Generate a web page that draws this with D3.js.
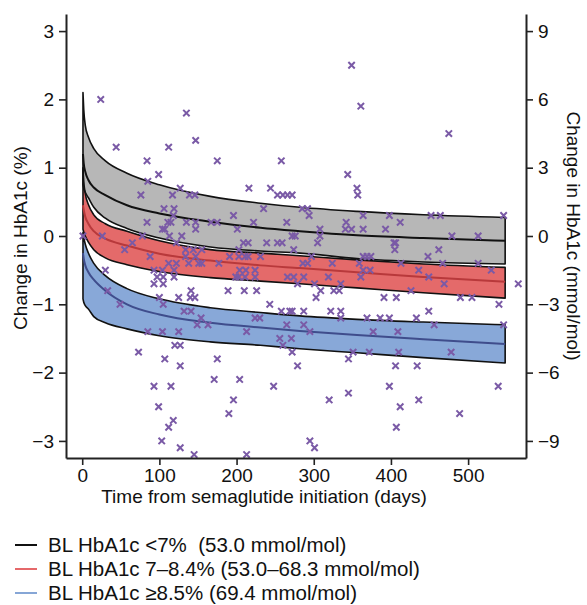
<!DOCTYPE html>
<html>
<head>
<meta charset="utf-8">
<script src="https://cdn.jsdelivr.net/npm/d3@7"></script>
<style>
  body { margin: 0; background: #fff; }
  text { font-family: "Liberation Sans", Arial, sans-serif; }
</style>
</head>
<body>
<div id="chart"></div>
<script>
// model curves, sampled at these days
const curveDays = [1, 2, 4, 8, 15, 30, 58, 100, 166, 231, 282, 356, 442, 548];

// BL HbA1c <7%
const lowUpper = [2.10, 1.85, 1.62, 1.45, 1.28, 1.10, 0.92, 0.75, 0.58, 0.48, 0.42, 0.36, 0.31, 0.27];
const lowMid   = [1.20, 1.06, 0.94, 0.82, 0.71, 0.60, 0.45, 0.33, 0.21, 0.12, 0.07, 0.01, -0.03, -0.07];
const lowLower = [0.75, 0.70, 0.64, 0.56, 0.42, 0.26, 0.11, -0.03, -0.16, -0.22, -0.25, -0.33, -0.38, -0.41];

// BL HbA1c 7-8.4%
const midUpper = [1.00, 0.80, 0.62, 0.46, 0.31, 0.18, 0.07, -0.07, -0.20, -0.25, -0.29, -0.35, -0.41, -0.46];
const midMid   = [0.45, 0.38, 0.28, 0.18, 0.07, -0.04, -0.14, -0.26, -0.36, -0.43, -0.47, -0.53, -0.60, -0.67];
const midLower = [0.10, 0.06, 0.00, -0.09, -0.20, -0.32, -0.42, -0.52, -0.61, -0.66, -0.70, -0.76, -0.83, -0.91];

// BL HbA1c >=8.5%
const highUpper = [0.05, -0.02, -0.12, -0.25, -0.40, -0.58, -0.77, -0.92, -1.05, -1.12, -1.17, -1.22, -1.26, -1.30];
const highMid   = [-0.25, -0.33, -0.43, -0.53, -0.64, -0.80, -1.00, -1.15, -1.27, -1.34, -1.39, -1.45, -1.51, -1.58];
const highLower = [-0.92, -0.97, -1.02, -1.07, -1.18, -1.27, -1.36, -1.46, -1.55, -1.60, -1.65, -1.71, -1.78, -1.86];

// individual patients: [change %, days...]
const pointRows = [
  [2.5, [349]], [2.0, [24]], [1.9, [361]], [1.8, [135]], [1.5, [475]], [1.4, [147]],
  [1.3, [44, 112]], [1.1, [84, 175, 258]], [0.9, [99, 344]], [0.8, [85]],
  [0.7, [127, 216, 244, 356]],
  [0.6, [76, 117, 139, 146, 253, 260, 266, 272, 357]],
  [0.4, [106, 119, 235, 285, 292]],
  [0.3, [118, 196, 294, 364, 398, 452, 464, 546]],
  [0.2, [84, 111, 115, 135, 147, 167, 175, 222, 265, 342, 412]],
  [0.1, [104, 107, 147, 201, 308, 341, 349, 364, 393]],
  [0.0, [1, 26, 78, 113, 129, 272, 276, 308, 479, 513]],
  [-0.1, [65, 122, 209, 215, 239, 253, 259, 305, 404, 406]],
  [-0.2, [55, 134, 144, 155, 203, 274, 405, 462]],
  [-0.3, [88, 134, 147, 191, 203, 211, 215, 231, 297, 364, 369, 374, 448]],
  [-0.4, [112, 122, 138, 151, 155, 177, 286, 292, 324, 359, 413, 467, 513]],
  [-0.5, [30, 93, 104, 119, 204, 212, 224, 364, 373, 436, 530]],
  [-0.6, [97, 105, 119, 199, 203, 211, 224, 266, 274, 287, 319, 361, 449]],
  [-0.7, [93, 105, 279, 301, 335, 469, 565]],
  [-0.8, [33, 141, 189, 210, 226, 309, 326, 333, 426]],
  [-0.9, [100, 125, 140, 146, 303, 391, 407, 490, 505]],
  [-1.0, [49, 105, 243, 540]],
  [-1.1, [132, 141, 258, 269, 272, 287, 322, 335, 449]],
  [-1.2, [154, 224, 230, 335, 369, 386, 398, 433]],
  [-1.3, [149, 163, 265, 287, 456, 546]],
  [-1.4, [85, 104, 125, 213, 295, 377, 409]],
  [-1.5, [256, 271]], [-1.6, [120, 127, 260]],
  [-1.7, [73, 272, 351, 372, 410, 478]],
  [-1.8, [107, 175, 345]], [-1.9, [127, 279, 406, 434]],
  [-2.1, [171, 204]], [-2.2, [93, 115, 248, 398, 539]], [-2.3, [345]],
  [-2.4, [196, 320, 436]], [-2.5, [99, 412]], [-2.6, [190, 489]], [-2.7, [118]],
  [-2.8, [112, 407]], [-3.0, [103, 295]], [-3.1, [127, 301]], [-3.2, [145, 213]]
];

const xTicks = [0, 100, 200, 300, 400, 500];
const yTicks = [-3, -2, -1, 0, 1, 2, 3];
const yTicksMmol = [-9, -6, -3, 0, 3, 6, 9];

const legendLabels = [
  "BL HbA1c <7%  (53.0 mmol/mol)",
  "BL HbA1c 7\u20138.4% (53.0\u201368.3 mmol/mol)",
  "BL HbA1c \u22658.5% (69.4 mmol/mol)"
];
const legendColors = ["#111", "#e5686a", "#86a6d6"];

const width = 587, height = 605;
const plot = { left: 66, right: 526, top: 14, bottom: 458 };

const svg = d3.select("#chart")
  .append("svg")
  .attr("width", width)
  .attr("height", height);

const x = d3.scaleLinear().domain([-21, 575]).range([plot.left, plot.right]);
const y = d3.scaleLinear().domain([-3.25, 3.25]).range([plot.bottom, plot.top]);
const yR = d3.scaleLinear().domain([-9.75, 9.75]).range([plot.bottom, plot.top]);

const bands = [
  { upper: highUpper, mid: highMid, lower: highLower, fill: "#88a8d8", midColor: "#3f4d8c" },
  { upper: midUpper, mid: midMid, lower: midLower, fill: "#e46a6a", midColor: "#b8393b" },
  { upper: lowUpper, mid: lowMid, lower: lowLower, fill: "#b7b7b7", midColor: "#111" }
];

bands.forEach(b => {
  b.rows = curveDays.map((d, i) => ({ day: d, hi: b.upper[i], mid: b.mid[i], lo: b.lower[i] }));
});

const area = d3.area()
  .x(d => x(d.day))
  .y0(d => y(d.lo))
  .y1(d => y(d.hi))
  .curve(d3.curveMonotoneX);

const midLine = d3.line()
  .x(d => x(d.day))
  .y(d => y(d.mid))
  .curve(d3.curveMonotoneX);

// fills first
svg.selectAll("path.fill")
  .data(bands)
  .enter()
  .append("path")
  .attr("class", "fill")
  .attr("d", d => area(d.rows))
  .attr("fill", d => d.fill);

// band outlines
svg.selectAll("path.edge")
  .data(bands)
  .enter()
  .append("path")
  .attr("class", "edge")
  .attr("d", d => area(d.rows))
  .attr("fill", "none")
  .attr("stroke", "#111")
  .attr("stroke-width", 1.6)
  .attr("stroke-linejoin", "round");

svg.selectAll("path.mid")
  .data(bands)
  .enter()
  .append("path")
  .attr("class", "mid")
  .attr("d", d => midLine(d.rows))
  .attr("fill", "none")
  .attr("stroke", d => d.midColor)
  .attr("stroke-width", 2);

// patient points
const points = [];
pointRows.forEach(([v, days]) => days.forEach(d => points.push({ day: d, v: v })));

const s = 3.2;
svg.append("g")
  .selectAll("path")
  .data(points)
  .enter()
  .append("path")
  .attr("transform", d => `translate(${x(d.day)},${y(d.v)})`)
  .attr("d", `M${-s},${-s}L${s},${s}M${-s},${s}L${s},${-s}`)
  .attr("stroke", "#7a5aa6")
  .attr("stroke-width", 2)
  .attr("fill", "none");

// axes
const fontSize = "19px";
const fmt = d3.format("d");

const gx = svg.append("g")
  .attr("transform", `translate(0,${plot.bottom})`)
  .call(d3.axisBottom(x).tickValues(xTicks).tickFormat(fmt).tickSize(7).tickSizeOuter(0).tickPadding(4));

const gy = svg.append("g")
  .attr("transform", `translate(${plot.left},0)`)
  .call(d3.axisLeft(y).tickValues(yTicks).tickFormat(fmt).tickSize(7).tickSizeOuter(0).tickPadding(5));

const gyR = svg.append("g")
  .attr("transform", `translate(${plot.right},0)`)
  .call(d3.axisRight(yR).tickValues(yTicksMmol).tickFormat(fmt).tickSize(7).tickSizeOuter(0).tickPadding(5));

[gx, gy, gyR].forEach(g => {
  g.select(".domain").attr("stroke", "#222").attr("stroke-width", 2);
  g.selectAll(".tick line").attr("stroke", "#222").attr("stroke-width", 1.6);
  g.selectAll(".tick text")
    .attr("fill", "#111")
    .style("font-size", fontSize)
    .style("font-family", '"Liberation Sans", Arial, sans-serif');
});

// titles
svg.append("text")
  .attr("x", 264)
  .attr("y", 503)
  .attr("text-anchor", "middle")
  .style("font-size", fontSize)
  .attr("fill", "#111")
  .text("Time from semaglutide initiation (days)");

svg.append("text")
  .attr("transform", "translate(20,238) rotate(-90)")
  .attr("dy", "0.35em")
  .attr("text-anchor", "middle")
  .style("font-size", fontSize)
  .attr("fill", "#111")
  .text("Change in HbA1c (%)");

svg.append("text")
  .attr("transform", "translate(574,236) rotate(90)")
  .attr("dy", "0.35em")
  .attr("text-anchor", "middle")
  .style("font-size", fontSize)
  .attr("fill", "#111")
  .text("Change in HbA1c (mmol/mol)");

// legend
const legend = svg.append("g")
  .selectAll("g")
  .data(legendLabels)
  .enter()
  .append("g")
  .attr("transform", (d, i) => `translate(0,${545 + i * 24})`);

legend.append("line")
  .attr("x1", 15).attr("x2", 37)
  .attr("y1", 0).attr("y2", 0)
  .attr("stroke", (d, i) => legendColors[i])
  .attr("stroke-width", 2);

legend.append("text")
  .attr("x", 48)
  .attr("y", 0)
  .attr("dy", "0.35em")
  .style("font-size", "20.5px")
  .style("white-space", "pre")
  .attr("fill", "#111")
  .text(d => d);
</script>
</body>
</html>
